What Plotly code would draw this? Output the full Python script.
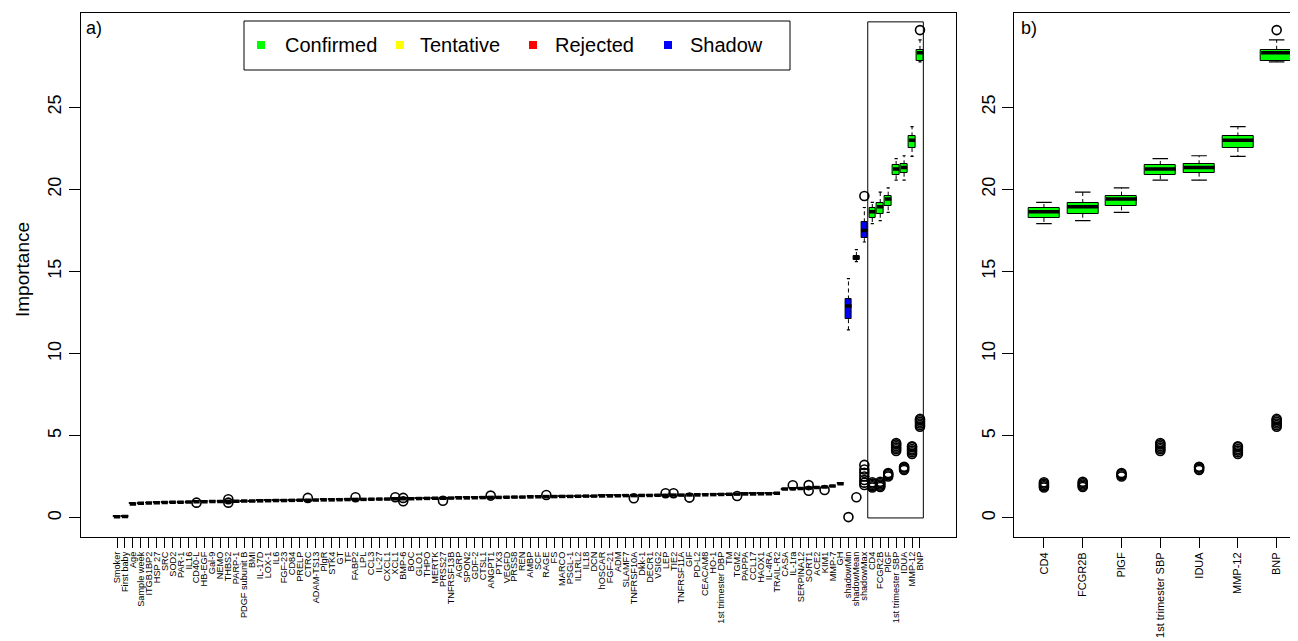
import plotly.graph_objects as go

W, H = 1298, 641
OFF = 8  # page body margin offset in the browser

features = ["Smoker", "First baby", "Age", "Sample week", "ITGB1BP2", "HSP 27", "SRC", "SOD2", "PAR-1", "IL16",
            "CD40-L", "HB-EGF", "Gal-9", "NEMO", "THBS2", "PARP-1", "PDGF subunit B", "BMI", "IL-17D", "LOX-1",
            "IL6", "FGF-23", "CD84", "PRELP", "CTRC", "ADAM-TS13", "PlgR", "STK4", "GT", "TF",
            "FABP2", "LPL", "CCL3", "IL-27", "CXCL1", "XCL1", "BMP-6", "BOC", "GLO1", "THPO",
            "MERTK", "PRSS27", "TNFRSF13B", "AGRP", "SPON2", "GDF-2", "CTSL1", "ANGPT1", "PTX3", "VEGFD",
            "PRSS8", "REN", "AMBP", "SCF", "RAGE", "FS", "MARCO", "PSGL-1", "IL1RL2", "IL18",
            "DCN", "hOSCAR", "FGF-21", "ADM", "SLAMF7", "TNFRSF10A", "Dkk-1", "DECR1", "VSIG2", "LEP",
            "TIE2", "TNFRSF11A", "GIF", "PD-L2", "CEACAM8", "HO-1", "1st trimester DBP", "TM", "TGM2", "PAPPA",
            "CCL17", "HAOX1", "IL-4RA", "TRAIL-R2", "CASA", "IL-1ra", "SERPINA12", "SORT1", "ACE2", "KIM1",
            "MMP-7", "GH", "shadowMin", "shadowMean", "shadowMax", "CD4", "FCGR2B", "PlGF", "1st trimester SBP", "IDUA",
            "MMP-12", "BNP"]

status = ["Rejected"] * 92 + ["Shadow"] * 3 + ["Confirmed"] * 7

median = [0.08, 0.09, 0.85, 0.89, 0.91, 0.93, 0.94, 0.95, 0.96, 0.97,
          0.98, 0.99, 1.00, 1.00, 1.01, 1.02, 1.03, 1.03, 1.04, 1.05,
          1.06, 1.06, 1.07, 1.08, 1.08, 1.09, 1.10, 1.10, 1.11, 1.12,
          1.13, 1.13, 1.14, 1.15, 1.15, 1.16, 1.17, 1.17, 1.18, 1.19,
          1.20, 1.20, 1.21, 1.22, 1.22, 1.23, 1.24, 1.25, 1.25, 1.26,
          1.27, 1.27, 1.28, 1.29, 1.30, 1.30, 1.31, 1.31, 1.32, 1.33,
          1.33, 1.34, 1.34, 1.35, 1.36, 1.36, 1.37, 1.37, 1.38, 1.38,
          1.39, 1.39, 1.40, 1.40, 1.41, 1.42, 1.43, 1.44, 1.45, 1.46,
          1.46, 1.47, 1.48, 1.50, 1.76, 1.78, 1.80, 1.82, 1.85, 1.88,
          1.94, 2.08, 12.90, 15.85, 17.50, 18.64, 18.95, 19.42, 21.24, 21.34,
          23.00, 28.32]

q1 = [0.05, 0.06, 0.82, 0.86, 0.88, 0.90, 0.91, 0.92, 0.93, 0.94,
      0.95, 0.96, 0.97, 0.97, 0.98, 0.99, 1.00, 1.00, 1.01, 1.02,
      1.03, 1.03, 1.04, 1.05, 1.05, 1.06, 1.07, 1.07, 1.08, 1.09,
      1.10, 1.10, 1.11, 1.12, 1.12, 1.13, 1.14, 1.14, 1.15, 1.16,
      1.17, 1.17, 1.18, 1.19, 1.19, 1.20, 1.21, 1.22, 1.22, 1.23,
      1.24, 1.24, 1.25, 1.26, 1.27, 1.27, 1.28, 1.28, 1.29, 1.30,
      1.30, 1.31, 1.31, 1.32, 1.33, 1.33, 1.34, 1.34, 1.35, 1.35,
      1.36, 1.36, 1.37, 1.37, 1.38, 1.39, 1.40, 1.41, 1.42, 1.43,
      1.43, 1.44, 1.45, 1.47, 1.73, 1.75, 1.77, 1.79, 1.82, 1.85,
      1.91, 2.04, 12.10, 15.72, 17.03, 18.26, 18.52, 18.97, 20.86, 21.02,
      22.52, 27.83]

q3 = [0.11, 0.12, 0.88, 0.92, 0.94, 0.96, 0.97, 0.98, 0.99, 1.00,
      1.01, 1.02, 1.03, 1.03, 1.04, 1.05, 1.06, 1.06, 1.07, 1.08,
      1.09, 1.09, 1.10, 1.11, 1.11, 1.12, 1.13, 1.13, 1.14, 1.15,
      1.16, 1.16, 1.17, 1.18, 1.18, 1.19, 1.20, 1.20, 1.21, 1.22,
      1.23, 1.23, 1.24, 1.25, 1.25, 1.26, 1.27, 1.28, 1.28, 1.29,
      1.30, 1.30, 1.31, 1.32, 1.33, 1.33, 1.34, 1.34, 1.35, 1.36,
      1.36, 1.37, 1.37, 1.38, 1.39, 1.39, 1.40, 1.40, 1.41, 1.41,
      1.42, 1.42, 1.43, 1.43, 1.44, 1.45, 1.46, 1.47, 1.48, 1.49,
      1.49, 1.50, 1.51, 1.53, 1.79, 1.81, 1.83, 1.85, 1.88, 1.91,
      1.97, 2.12, 13.30, 15.95, 18.00, 18.87, 19.17, 19.62, 21.49, 21.53,
      23.23, 28.50]

# whiskers (only visible ones; rejected features' whiskers hide inside the median bar)
whisk_lo = [None] * 92 + [11.45, 15.60, 16.80, 17.92, 18.10, 18.60, 20.57, 20.57, 22.01, 27.77]
whisk_hi = [None] * 92 + [14.57, 16.33, 18.90, 19.21, 19.84, 20.10, 21.87, 22.05, 23.82, 29.10]

# outliers: (feature position 1-based, value)
outlier_pos = [11, 15, 15, 25, 31, 36, 37, 37, 42, 48, 55, 66, 70, 71, 73, 79, 86, 88, 88, 90,
               93, 94,
               95, 95, 95, 95, 95, 95, 95, 95,
               96, 96, 96, 96, 96,
               97, 97, 97, 97, 97,
               98, 98, 98, 98,
               99, 99, 99, 99, 99, 99,
               100, 100, 100, 100,
               101, 101, 101, 101, 101, 101,
               102, 102, 102, 102, 102, 102, 102]
outlier_val = [0.93, 1.14, 0.93, 1.22, 1.26, 1.26, 1.22, 1.02, 1.05, 1.36, 1.40, 1.20, 1.50, 1.50, 1.24, 1.34, 1.99, 2.00, 1.66, 1.70,
               0.05, 1.26,
               19.60, 3.23, 2.95, 2.75, 2.52, 2.31, 2.15, 2.01,
               1.85, 1.93, 2.01, 2.09, 2.17,
               1.88, 1.96, 2.04, 2.12, 2.20,
               2.52, 2.60, 2.68, 2.74,
               4.08, 4.18, 4.28, 4.38, 4.48, 4.56,
               2.92, 3.00, 3.08, 3.12,
               3.90, 4.00, 4.10, 4.20, 4.30, 4.36,
               5.55, 5.65, 5.75, 5.85, 5.95, 6.03, 29.70]

status_colors = {"Confirmed": "#00FF00", "Tentative": "#FFFF00", "Rejected": "#FF0000", "Shadow": "#0000FF"}
legend_order = ["Confirmed", "Tentative", "Rejected", "Shadow"]

n_b = 7  # number of confirmed features shown in panel b

FONT = "Liberation Sans, Arial, sans-serif"
BOXW = 0.8


def px_x(p):
    return (p - OFF) / W


def px_y(p):
    return 1 - (p - OFF) / H


fig = go.Figure()


def add_boxes(idx, xs, xa, ya):
    fig.add_trace(go.Bar(
        x=xs, y=[q3[i] - q1[i] for i in idx], base=[q1[i] for i in idx], width=BOXW,
        marker=dict(color=[status_colors[status[i]] for i in idx], line=dict(color="black", width=1)),
        xaxis=xa, yaxis=ya, showlegend=False, hoverinfo="skip"))
    # whiskers (dashed)
    wx, wy, cx, cy = [], [], [], []
    for i, x in zip(idx, xs):
        if whisk_hi[i] is not None:
            wx += [x, x, None, x, x, None]
            wy += [q3[i], whisk_hi[i], None, q1[i], whisk_lo[i], None]
            cx += [x - BOXW / 4, x + BOXW / 4, None, x - BOXW / 4, x + BOXW / 4, None]
            cy += [whisk_hi[i], whisk_hi[i], None, whisk_lo[i], whisk_lo[i], None]
    fig.add_trace(go.Scatter(x=wx, y=wy, mode="lines", line=dict(color="black", width=1, dash="4px,3px"),
                             xaxis=xa, yaxis=ya, showlegend=False, hoverinfo="skip"))
    fig.add_trace(go.Scatter(x=cx, y=cy, mode="lines", line=dict(color="black", width=1.2),
                             xaxis=xa, yaxis=ya, showlegend=False, hoverinfo="skip"))
    # medians
    mx, my = [], []
    for i, x in zip(idx, xs):
        mx += [x - BOXW / 2, x + BOXW / 2, None]
        my += [median[i], median[i], None]
    fig.add_trace(go.Scatter(x=mx, y=my, mode="lines", line=dict(color="black", width=3.5),
                             xaxis=xa, yaxis=ya, showlegend=False, hoverinfo="skip"))


CIRCLE = dict(symbol="circle-open", size=9, color="black", line=dict(width=1.6))

n = len(features)
idx_a = list(range(n))
xs_a = [i + 1 for i in idx_a]
add_boxes(idx_a, xs_a, "x", "y")
fig.add_trace(go.Scatter(x=outlier_pos, y=outlier_val, mode="markers", marker=CIRCLE,
                         xaxis="x", yaxis="y", showlegend=False, hoverinfo="skip"))

idx_b = list(range(n - n_b, n))
xs_b = [i - (n - n_b) + 1 for i in idx_b]
add_boxes(idx_b, xs_b, "x2", "y2")
ob_x = [p - (n - n_b) for p in outlier_pos if p > n - n_b]
ob_y = [v for p, v in zip(outlier_pos, outlier_val) if p > n - n_b]
fig.add_trace(go.Scatter(x=ob_x, y=ob_y, mode="markers", marker=CIRCLE,
                         xaxis="x2", yaxis="y2", showlegend=False, hoverinfo="skip"))

y_dom = [px_y(537), px_y(13)]
y_rng = [-1.16, 30.74]
yticks = [0, 5, 10, 15, 20, 25]

common_y = dict(range=y_rng, domain=y_dom, tickvals=yticks, ticktext=[str(t) for t in yticks],
                tickangle=-90, tickfont=dict(size=18, family=FONT, color="black"),
                ticks="outside", ticklen=11, tickcolor="black", showline=True, linecolor="black",
                linewidth=1, showgrid=False, zeroline=False, automargin=False)

fig.update_layout(
    width=W, height=H, margin=dict(l=0, r=0, t=0, b=0, autoexpand=False),
    paper_bgcolor="white", plot_bgcolor="white", barmode="overlay", bargap=0,
    font=dict(family=FONT, color="black"),
    xaxis=dict(domain=[px_x(80.6), px_x(956.4)], range=[-3.58, 106.58],
               tickvals=xs_a, ticktext=features, tickangle=-90,
               tickfont=dict(size=9.2, family=FONT, color="black"),
               ticks="outside", ticklen=10, tickcolor="black", showline=True, mirror=True,
               linecolor="black", linewidth=1, showgrid=False, zeroline=False, anchor="y",
               automargin=False),
    yaxis=dict(mirror=True, anchor="x", **common_y),
    xaxis2=dict(domain=[px_x(1013.7), px_x(1298)], range=[0.22, 7.55],
                tickvals=xs_b, ticktext=[features[i] for i in idx_b], tickangle=-90,
                tickfont=dict(size=11, family=FONT, color="black"),
                ticks="outside", ticklen=10, tickcolor="black", showline=True, mirror=True,
                linecolor="black", linewidth=1, showgrid=False, zeroline=False, anchor="y2",
                automargin=False),
    yaxis2=dict(mirror=False, anchor="x2", **common_y),
)

# highlight rectangle around confirmed features in panel a
fig.add_shape(type="rect", xref="x", yref="y", x0=95.43, x1=102.42, y0=0.0, y1=30.2,
              line=dict(color="black", width=1), fillcolor="rgba(0,0,0,0)", layer="above")

# Importance title
fig.add_annotation(x=px_x(22), y=px_y(270), xref="paper", yref="paper", text="Importance",
                   xanchor="center", yanchor="middle",
                   textangle=-90, showarrow=False, font=dict(size=19, family=FONT, color="black"))
# panel labels
fig.add_annotation(x=px_x(84), y=px_y(16), xref="paper", yref="paper", text="a)", xanchor="left",
                   yanchor="top", showarrow=False, font=dict(size=18, family=FONT, color="black"))
fig.add_annotation(x=px_x(1019), y=px_y(16), xref="paper", yref="paper", text="b)", xanchor="left",
                   yanchor="top", showarrow=False, font=dict(size=18, family=FONT, color="black"))

# legend box
fig.add_shape(type="rect", xref="paper", yref="paper", x0=px_x(244), x1=px_x(790), y0=px_y(70), y1=px_y(21),
              line=dict(color="black", width=1), fillcolor="white")
sq_x = [261, 400, 533, 668]
tx_x = [283, 418, 553, 688]
for lab, sx, tx in zip(legend_order, sq_x, tx_x):
    fig.add_shape(type="rect", xref="paper", yref="paper", x0=px_x(sx - 4), x1=px_x(sx + 4),
                  y0=px_y(49), y1=px_y(41), line=dict(width=0), fillcolor=status_colors[lab])
    fig.add_annotation(x=px_x(tx), y=px_y(45), xref="paper", yref="paper", text=lab, xanchor="left",
                       yanchor="middle", showarrow=False, font=dict(size=20, family=FONT, color="black"))

fig.write_html("out.html")
